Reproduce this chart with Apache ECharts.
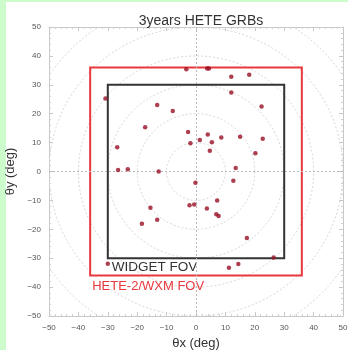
<!DOCTYPE html>
<html><head><meta charset="utf-8">
<script src="https://cdn.jsdelivr.net/npm/echarts@6/dist/echarts.min.js"></script>
<style>html,body{margin:0;padding:0;background:#fff}#c{width:348px;height:350px}</style>
</head><body><div id="c"></div>
<script>
// GRB positions (theta x, theta y) in degrees
const grbX = [-3.3, 3.8, 4.4, 12.0, 18.1, 12.0, 22.3, -30.8, -13.2, -7.9,
  -17.3, -2.7, 4.0, 8.6, 15.0, 22.7, 1.3, 5.4, -1.9, 4.7, 20.2,
  -26.8, -26.5, -23.2, -12.7, 13.5, 12.7, -0.2, 7.2, -2.2, -0.6, 3.7,
  -15.5, 6.9, 7.7, -13.2, -18.4, 17.3, 26.4, 14.4, 11.2, -30.0];
const grbY = [35.4, 35.6, 35.6, 32.8, 33.5, 27.3, 22.5, 25.3, 23.0, 20.9,
  15.3, 13.7, 12.8, 11.8, 12.0, 11.3, 10.9, 10.1, 9.8, 7.2, 6.3,
  8.4, 0.5, 0.8, 0.0, 1.2, -3.2, -3.9, -10.0, -11.7, -11.4, -12.8,
  -12.5, -14.8, -15.4, -16.7, -18.1, -23.0, -29.8, -32.0, -33.3, -31.9];
const circleRadii = [10, 20, 30, 40, 50, 60, 70];
const fovNames = ['WIDGET FOV', 'HETE-2/WXM FOV'];
const fovHalf = [30, 36];
const axisMin = -50, axisMax = 50, axisStep = 10;
const title = '3years HETE GRBs';

const fovColors = ['#333333', '#e8383d'];

const chart = echarts.init(document.getElementById('c'));
const FONT = 'Liberation Sans, Arial, sans-serif';
const commonAxis = {
  min: axisMin, max: axisMax, interval: axisStep,
  axisLine: { show: true, onZero: false, lineStyle: { color: '#c8c8c8', width: 1 } },
  axisTick: { show: true, inside: true, length: 4, lineStyle: { color: '#c8c8c8' } },
  minorTick: { show: true, splitNumber: 5, length: 2, lineStyle: { color: '#d0d0d0' } },
  splitLine: { show: false },
  axisLabel: { fontSize: 8, color: '#555', fontFamily: FONT, formatter: v => String(v).replace('-', '\u2212') }
};

chart.setOption({
  backgroundColor: '#ffffff',
  animation: false,
  title: { text: title, left: 196, top: 9, textAlign: 'center',
    textStyle: { fontSize: 14, fontWeight: 'normal', color: '#333', fontFamily: FONT } },
  grid: { left: 49, right: 5, top: 27, bottom: 34, containLabel: false, outerBoundsMode: 'none' },
  graphic: [
    { type: 'rect', shape: { x: 0, y: 0, width: 6, height: 350 }, style: { fill: '#ccfccc' }, silent: true },
    { type: 'rect', shape: { x: 0, y: 0, width: 348, height: 2 }, style: { fill: '#ccfccc' }, silent: true }
  ],
  xAxis: [
    Object.assign({}, commonAxis, { type: 'value', position: 'bottom', name: '\u03b8x (deg)',
      nameLocation: 'middle', nameGap: 15,
      nameTextStyle: { fontSize: 13, color: '#333', fontFamily: FONT } }),
    Object.assign({}, commonAxis, { type: 'value', position: 'top', axisLabel: { show: false } })
  ],
  yAxis: [
    Object.assign({}, commonAxis, { type: 'value', position: 'left', name: '\u03b8y (deg)',
      nameLocation: 'middle', nameGap: 25, nameRotate: 90,
      nameTextStyle: { fontSize: 13, color: '#333', fontFamily: FONT } }),
    Object.assign({}, commonAxis, { type: 'value', position: 'right', axisLabel: { show: false } })
  ],
  series: [
    {
      type: 'custom', silent: true, z: 1,
      data: circleRadii.map(r => [r]),
      renderItem: function (params, api) {
        const r = api.value(0);
        const pts = [];
        for (let i = 0; i <= 180; i++) {
          const a = i / 180 * Math.PI * 2;
          pts.push(api.coord([r * Math.cos(a), r * Math.sin(a)]));
        }
        const cs = params.coordSys;
        return {
          type: 'polyline', shape: { points: pts },
          style: { stroke: '#d8d8d8', lineWidth: 1, lineDash: [2, 2], fill: null },
          clipPath: { type: 'rect', shape: { x: cs.x, y: cs.y, width: cs.width, height: cs.height } }
        };
      }
    },
    {
      type: 'custom', silent: true, z: 3,
      data: fovHalf.map((h, i) => [h, i]),
      renderItem: function (params, api) {
        const h = api.value(0), i = api.value(1);
        const p1 = api.coord([-h, h]);
        const p2 = api.coord([h, -h]);
        const offs = [{ dx: 4, dy: 9, size: 13.5 }, { dx: 2, dy: 11, size: 13 }];
        return {
          type: 'group',
          children: [
            { type: 'rect', shape: { x: p1[0], y: p1[1], width: p2[0] - p1[0], height: p2[1] - p1[1] },
              style: { stroke: fovColors[i], lineWidth: 2, fill: null } },
            { type: 'text', x: p1[0] + offs[i].dx, y: p2[1] + offs[i].dy,
              style: { text: fovNames[i], fill: fovColors[i], fontSize: offs[i].size,
                fontFamily: FONT, verticalAlign: 'middle', align: 'left' } }
          ]
        };
      }
    },
    {
      type: 'scatter', z: 5,
      data: grbX.map((x, i) => [x, grbY[i]]),
      symbolSize: 4.5,
      itemStyle: { color: '#981024' },
      markLine: {
        silent: true, symbol: 'none', label: { show: false },
        lineStyle: { color: '#b8b8b8', type: [2, 2], width: 1 },
        data: [{ xAxis: 0 }, { yAxis: 0 }]
      }
    }
  ]
});
</script></body></html>
